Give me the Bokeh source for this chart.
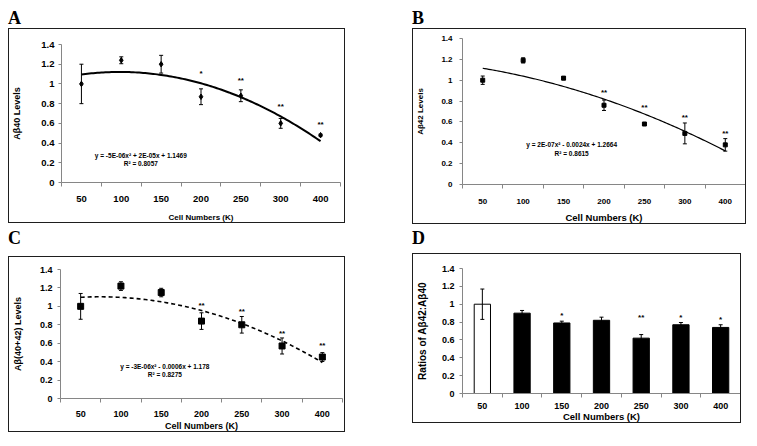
import numpy as np
from bokeh.plotting import figure
from bokeh.models import (ColumnDataSource, Whisker, TeeHead, FixedTicker,
                          CustomJSTickFormatter, Range1d, Div)
from bokeh.layouts import column, row
from bokeh.core.properties import value
from bokeh.embed import file_html
from bokeh.resources import INLINE

# ---------------- data ----------------
cells = ["50", "100", "150", "200", "250", "300", "400"]
yticks = [0, 0.2, 0.4, 0.6, 0.8, 1.0, 1.2, 1.4]

a40_mean = [1.00, 1.24, 1.20, 0.87, 0.88, 0.60, 0.48]
a40_err = [0.20, 0.035, 0.09, 0.08, 0.06, 0.05, 0.01]
a40_star = ["", "", "", "*", "**", "**", "**"]
a40_star_y = [0, 0, 0, 1.11, 1.03, 0.77, 0.59]
a40_eq = ["y = -5E-06x\u00b2 + 2E-05x + 1.1469", "R\u00b2 = 0.8057"]

a42_mean = [1.00, 1.19, 1.02, 0.76, 0.58, 0.49, 0.38]
a42_err = [0.04, 0.025, 0.015, 0.05, 0.008, 0.10, 0.06]
a42_star = ["", "", "", "**", "**", "**", "**"]
a42_star_y = [0, 0, 0, 0.88, 0.74, 0.64, 0.49]
a42_eq = ["y = 2E-07x\u00b2 - 0.0024x + 1.2664", "R\u00b2 = 0.8615"]

tot_mean = [1.00, 1.22, 1.15, 0.84, 0.80, 0.57, 0.45]
tot_err = [0.14, 0.047, 0.046, 0.09, 0.09, 0.087, 0.048]
tot_star = ["", "", "", "**", "**", "**", "**"]
tot_star_y = [0, 0, 0, 1.01, 0.94, 0.71, 0.57]
tot_eq = ["y = -3E-06x\u00b2 - 0.0006x + 1.178", "R\u00b2 = 0.8275"]

ratio_mean = [1.00, 0.90, 0.79, 0.82, 0.62, 0.77, 0.74]
ratio_err = [0.17, 0.03, 0.02, 0.035, 0.04, 0.025, 0.03]
ratio_star = ["", "", "*", "", "**", "*", "*"]
ratio_star_y = [0, 0, 0.87, 0, 0.85, 0.855, 0.83]
ratio_colors = ["white", "black", "black", "black", "black", "black", "black"]

idx = list(range(1, len(cells) + 1))
bounds = [i - 0.5 for i in range(1, len(cells) + 2)]

AXIS = "#868686"
FONT = "Liberation Sans"
BOX = "#1e1e1e"


def make_panel(w, h, borders, ylabel, tick_fs, xlab_fs, ylab_fs,
               x_std, xl_std, y_std, yl_std):
    left, right, top, bottom = borders
    p = figure(width=w, height=h, x_range=Range1d(0.5, 7.5),
               y_range=Range1d(0, 1.4), output_backend="svg",
               toolbar_location=None, min_border_left=left,
               min_border_right=right, min_border_top=top,
               min_border_bottom=bottom)
    p.grid.visible = False
    p.outline_line_color = None
    p.background_fill_color = "white"
    p.border_fill_color = "white"

    xa = p.xaxis[0]
    xa.ticker = FixedTicker(ticks=idx, minor_ticks=bounds)
    xa.formatter = CustomJSTickFormatter(args=dict(labels=cells),
                                         code="return labels[Math.round(tick) - 1];")
    xa.major_tick_out = 0
    xa.major_tick_in = 0
    xa.minor_tick_out = 4
    xa.minor_tick_in = 0
    xa.major_label_standoff = x_std
    xa.axis_label = "Cell Numbers (K)"
    xa.axis_label_standoff = xl_std

    ya = p.yaxis[0]
    ya.ticker = FixedTicker(ticks=yticks)
    ya.formatter = CustomJSTickFormatter(code="return String(Math.round(tick * 10) / 10);")
    ya.major_tick_out = 3
    ya.major_tick_in = 0
    ya.minor_tick_out = 0
    ya.minor_tick_in = 0
    ya.major_label_standoff = y_std
    ya.axis_label = ylabel
    ya.axis_label_standoff = yl_std

    for ax, lfs in ((xa, xlab_fs), (ya, ylab_fs)):
        ax.axis_line_color = AXIS
        ax.major_tick_line_color = AXIS
        ax.minor_tick_line_color = AXIS
        ax.major_label_text_font = FONT
        ax.major_label_text_font_style = "bold"
        ax.major_label_text_font_size = f"{tick_fs}px"
        ax.major_label_text_color = "black"
        ax.axis_label_text_font = FONT
        ax.axis_label_text_font_style = "bold"
        ax.axis_label_text_font_size = f"{lfs}px"
        ax.axis_label_text_color = "black"

    # the framed box around each panel
    p.styles = {"border": f"1.5px solid {BOX}"}
    return p


def add_errors(p, mean, err, cap=4):
    src = ColumnDataSource(dict(x=idx,
                                upper=[m + e for m, e in zip(mean, err)],
                                lower=[m - e for m, e in zip(mean, err)]))
    wk = Whisker(base="x", upper="upper", lower="lower", source=src,
                 line_color="black", line_width=1, level="overlay",
                 upper_head=TeeHead(size=cap, line_color="black", line_width=1),
                 lower_head=TeeHead(size=cap, line_color="black", line_width=1))
    p.add_layout(wk)


def add_stars(p, stars, star_y, fs=8):
    xs = [i for i, s in zip(idx, stars) if s]
    ys = [y for y, s in zip(star_y, stars) if s]
    ts = [s for s in stars if s]
    p.text(x=xs, y=ys, text=ts, text_align="center", text_baseline="middle",
           text_font=value(FONT), text_font_style="bold",
           text_font_size=f"{fs}px", text_color="black")


def add_trend(p, mean, **kw):
    coef = np.polyfit(idx, mean, 2)
    xs = np.linspace(idx[0], idx[-1], 121)
    p.line(xs, np.polyval(coef, xs), line_color="black", **kw)


def add_eq(p, eq, x, y1, y2, fs=6.5):
    p.text(x=[x, x], y=[y1, y2], text=eq, text_align="center",
           text_baseline="middle", text_font=value(FONT),
           text_font_style="bold", text_font_size=f"{fs}px",
           text_color="black")


# ---------------- panel A ----------------
pA = make_panel(337, 195, (49, 6, 15, 40), "A\u03b240 Levels", 9.5, 8, 9,
                9, 8, 4, 16)
add_trend(pA, a40_mean, line_width=2)
add_errors(pA, a40_mean, a40_err)
pA.scatter(idx, a40_mean, marker="diamond", size=5.5, color="black")
add_stars(pA, a40_star, a40_star_y)
add_eq(pA, a40_eq, 2.49, 0.27, 0.19)

# ---------------- panel B ----------------
pB = make_panel(334, 196, (47, 2, 9, 38), "A\u03b242 Levels", 8, 9.5, 8,
                10, 5, 7, 13)
add_trend(pB, a42_mean, line_width=1.2)
add_errors(pB, a42_mean, a42_err)
pB.scatter(idx, a42_mean, marker="square", size=4, color="black")
add_stars(pB, a42_star, a42_star_y)
add_eq(pB, a42_eq, 3.2, 0.384, 0.30)

# ---------------- panel C ----------------
pC = make_panel(337, 176, (49, 4, 12, 35), "A\u03b2(40+42) Levels", 9, 9, 9,
                8, 1, 5, 14)
add_trend(pC, tot_mean, line_width=1.6, line_dash="4 3")
add_errors(pC, tot_mean, tot_err)
pC.scatter(idx, tot_mean, marker="square", size=6, color="black")
add_stars(pC, tot_star, tot_star_y)
add_eq(pC, tot_eq, 3.09, 0.35, 0.26)

# ---------------- panel D ----------------
pD = make_panel(329, 170, (46, 2, 14, 27), "Ratios of A\u03b242:A\u03b240", 9, 9.5, 10,
                5, -1, 5, 11)
pD.vbar(x=idx, top=ratio_mean, width=0.41, fill_color=ratio_colors,
        line_color="black", line_width=1)
add_errors(pD, ratio_mean, ratio_err)
add_stars(pD, ratio_star, ratio_star_y)


def letter(ch, w, h, pad):
    html = ('<div style="font-family:\'Liberation Serif\';font-weight:bold;'
            'font-size:18px;line-height:20px;color:#000;'
            f'padding-top:{pad}px;padding-left:0px;">{ch}</div>')
    return Div(text=html, width=w, height=h, margin=0)


colA = column(letter("A", 340, 20, 0), pA, spacing=0)
colB = column(letter("B", 337, 20, 0), pB, spacing=0)
colC = column(letter("C", 340, 32, 4), pC, spacing=0)
colD = column(letter("D", 332, 29, 4), pD, spacing=0)

layout = column(row(colA, colB, spacing=64), row(colC, colD, spacing=64),
                spacing=0)
layout.margin = (8, 8, 8, 8)

with open("out.html", "w") as f:
    f.write(file_html(layout, INLINE))
